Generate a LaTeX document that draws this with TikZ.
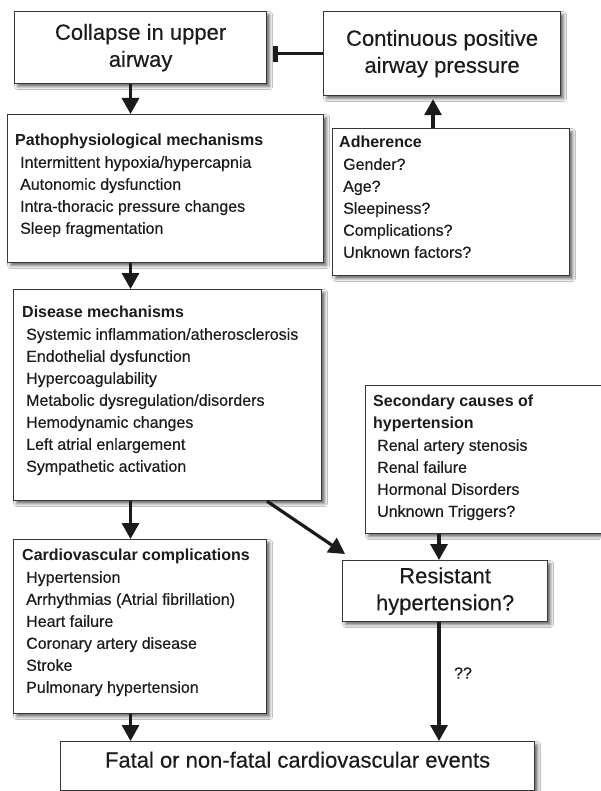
\documentclass[tikz,border=0pt]{standalone}
\usepackage{fontspec}
\setmainfont{Liberation Sans}[UprightFeatures={FakeBold=0.3}]
\usetikzlibrary{arrows.meta,shadows.blur}
\definecolor{ink}{RGB}{28,26,27}
\definecolor{frame}{RGB}{55,55,55}
\begin{document}
\begin{tikzpicture}[x=1pt,y=-1pt,
  box/.style={draw=frame, line width=1.2pt, fill=white, rectangle, inner sep=0pt, anchor=north west,
    blur shadow={shadow xshift=3pt, shadow yshift=-3pt, shadow blur radius=3pt, shadow opacity=60}},
  ttl/.style={font=\fontsize{22}{27}\selectfont, align=center, text=ink},
  lst/.style={font=\fontsize{16}{22}\selectfont, align=left, anchor=north west, inner sep=0pt, text=ink},
  arr/.style={draw=ink, line width=3.2pt, -{Triangle[length=16pt,width=17pt]}},
  tee/.style={draw=ink, line width=3.2pt, -{Bar[width=16pt, line width'=5pt]}}
]
\fill[white] (0,0) rectangle (600,791);
\useasboundingbox (0,0) rectangle (600,791);

% boxes
\node[box, ttl, minimum width=252pt, minimum height=72pt] (collapse) at (14,11) {Collapse in upper\\airway};
\node[box, ttl, minimum width=237pt, minimum height=84pt] (cpap) at (323,11) {Continuous positive\\airway pressure};
\node[box, minimum width=316pt, minimum height=148pt] (patho) at (7,114) {};
\node[box, minimum width=237pt, minimum height=147pt] (adher) at (332,128) {};
\node[box, minimum width=308pt, minimum height=211pt] (disease) at (13,289) {};
\node[box, minimum width=240pt, minimum height=148pt] (second) at (365,385) {};
\node[box, ttl, minimum width=205pt, minimum height=61pt] (resist) at (342,560) {Resistant\\hypertension?};
\node[box, minimum width=253pt, minimum height=174pt] (cv) at (13,539) {};
\node[box, ttl, minimum width=474pt, minimum height=49pt, text height=10pt, text depth=7pt] (fatal) at (60,741) {Fatal or non-fatal cardiovascular events};

% box texts
\node[lst] (pathoT) at (15,134) {\textbf{Pathophysiological mechanisms}\\
\hspace*{5pt}Intermittent hypoxia/hypercapnia\\
\hspace*{5pt}Autonomic dysfunction\\
\hspace*{5pt}Intra-thoracic pressure changes\\
\hspace*{5pt}Sleep fragmentation};
\node[lst] (adherT) at (339,136) {\textbf{Adherence}\\
\hspace*{4pt}Gender?\\
\hspace*{4pt}Age?\\
\hspace*{4pt}Sleepiness?\\
\hspace*{4pt}Complications?\\
\hspace*{4pt}Unknown factors?};
\node[lst] (diseaseT) at (22,306) {\textbf{Disease mechanisms}\\
\hspace*{4pt}Systemic inflammation/atherosclerosis\\
\hspace*{4pt}Endothelial dysfunction\\
\hspace*{4pt}Hypercoagulability\\
\hspace*{4pt}Metabolic dysregulation/disorders\\
\hspace*{4pt}Hemodynamic changes\\
\hspace*{4pt}Left atrial enlargement\\
\hspace*{4pt}Sympathetic activation};
\node[lst] (secondT) at (373,395) {\textbf{Secondary causes of}\\
\textbf{hypertension}\\
\hspace*{4pt}Renal artery stenosis\\
\hspace*{4pt}Renal failure\\
\hspace*{4pt}Hormonal Disorders\\
\hspace*{4pt}Unknown Triggers?};
\node[lst] (cvT) at (22,549) {\textbf{Cardiovascular complications}\\
\hspace*{4pt}Hypertension\\
\hspace*{4pt}Arrhythmias (Atrial fibrillation)\\
\hspace*{4pt}Heart failure\\
\hspace*{4pt}Coronary artery disease\\
\hspace*{4pt}Stroke\\
\hspace*{4pt}Pulmonary hypertension};

% connector columns
\coordinate (lx) at (130.5,0);
\coordinate (ax) at (433,0);
\coordinate (rx) at (439,0);
\coordinate (dx) at (267,0);
\coordinate (tb) at (273,0);

\draw[arr] (collapse.south -| lx) -- (patho.north -| lx);
\draw[arr] (patho.south -| lx) -- (disease.north -| lx);
\draw[arr] (disease.south -| lx) -- (cv.north -| lx);
\draw[arr] (cv.south -| lx) -- (fatal.north -| lx);
\draw[arr] (adher.north -| ax) -- ([yshift=-3pt]cpap.south -| ax);
\draw[tee] (cpap.west) -- (cpap.west -| tb);
\draw[arr] (second.south -| rx) -- (resist.north -| rx);
\draw[arr] (resist.south -| rx) -- (fatal.north -| rx);
\draw[arr] (disease.south -| dx) -- ([shift={(3,-6)}]resist.north west);
\node[font=\fontsize{16}{20}\selectfont, text=ink] (qq) at (463,673) {??};
\end{tikzpicture}
\end{document}
